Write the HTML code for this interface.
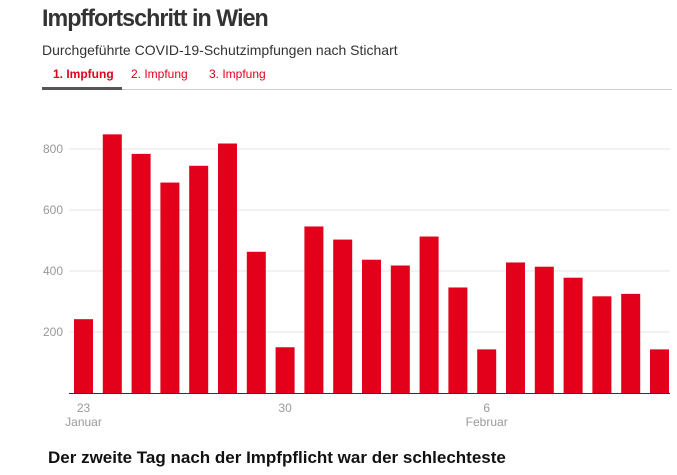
<!DOCTYPE html>
<html><head><meta charset="utf-8"><style>
body{margin:0;width:677px;height:475px;background:#fff;font-family:"Liberation Sans",sans-serif;overflow:hidden;position:relative}
.t{position:absolute;left:42px;top:5px;font-size:24px;font-weight:bold;color:#333;letter-spacing:-1px;transform:scaleX(0.97);transform-origin:left}
.s{position:absolute;left:42px;top:42px;font-size:14px;color:#333}
.tab{position:absolute;top:67px;font-size:12px;color:#e2001a}
.line{position:absolute;left:42px;top:89px;width:630px;height:1px;background:#ccc}
.act{position:absolute;left:42px;top:87px;width:80px;height:3px;background:#555}
.f{position:absolute;left:48px;top:448px;font-size:17px;font-weight:bold;color:#111}
</style></head><body>
<div class="t">Impffortschritt in Wien</div>
<div class="s">Durchgeführte COVID-19-Schutzimpfungen nach Stichart</div>
<div class="tab" style="left:53px;font-weight:bold">1. Impfung</div>
<div class="tab" style="left:131px">2. Impfung</div>
<div class="tab" style="left:209px">3. Impfung</div>
<div class="line"></div>
<div class="act"></div>
<svg id="c" width="677" height="475" style="position:absolute;left:0;top:0"></svg>
<div class="f">Der zweite Tag nach der Impfpflicht war der schlechteste</div>
<script>
const values=[242,848,784,690,745,818,463,150,546,503,437,418,513,346,143,428,414,378,317,325,143];
const yTicks=[200,400,600,800];
const xLabels=[{i:0,a:"23",b:"Januar"},{i:7,a:"30",b:""},{i:14,a:"6",b:"Februar"}];
const svg=document.getElementById('c');const NS="http://www.w3.org/2000/svg";
const y0=393,pxPer=61/200,x0=74,step=28.8,bw=19;
const y=v=>y0-v*pxPer, x=i=>x0+i*step;
function mk(t,a){const e=document.createElementNS(NS,t);for(const k in a)e.setAttribute(k,a[k]);svg.appendChild(e);return e;}
yTicks.forEach(v=>{
 const g=mk('line',{x1:69,x2:670,y1:y(v),y2:y(v),stroke:'#e6e6e6','stroke-width':1});
 
 
 const t=mk('text',{x:43,y:y(v)+4,'font-size':12,fill:'#999','font-family':'Liberation Sans'});t.textContent=v;
 
 
});
values.forEach((v,i)=>{
 const r=mk('rect',{x:x(i),y:y(v),width:bw,height:v*pxPer,fill:'#e2001a'});
 
 
});
const ax=mk('line',{x1:69,x2:670,y1:y0+0.5,y2:y0+0.5,stroke:'#333','stroke-width':1});


xLabels.forEach(l=>{
 const cx=x(l.i)+bw/2;
 const t=mk('text',{x:cx,y:412,'text-anchor':'middle','font-size':12,fill:'#999','font-family':'Liberation Sans'});t.textContent=l.a;
 
 
 if(l.b){const u=mk('text',{x:cx,y:426,'text-anchor':'middle','font-size':12,fill:'#999','font-family':'Liberation Sans'});u.textContent=l.b;
 
 }
});
</script>
</body></html>
